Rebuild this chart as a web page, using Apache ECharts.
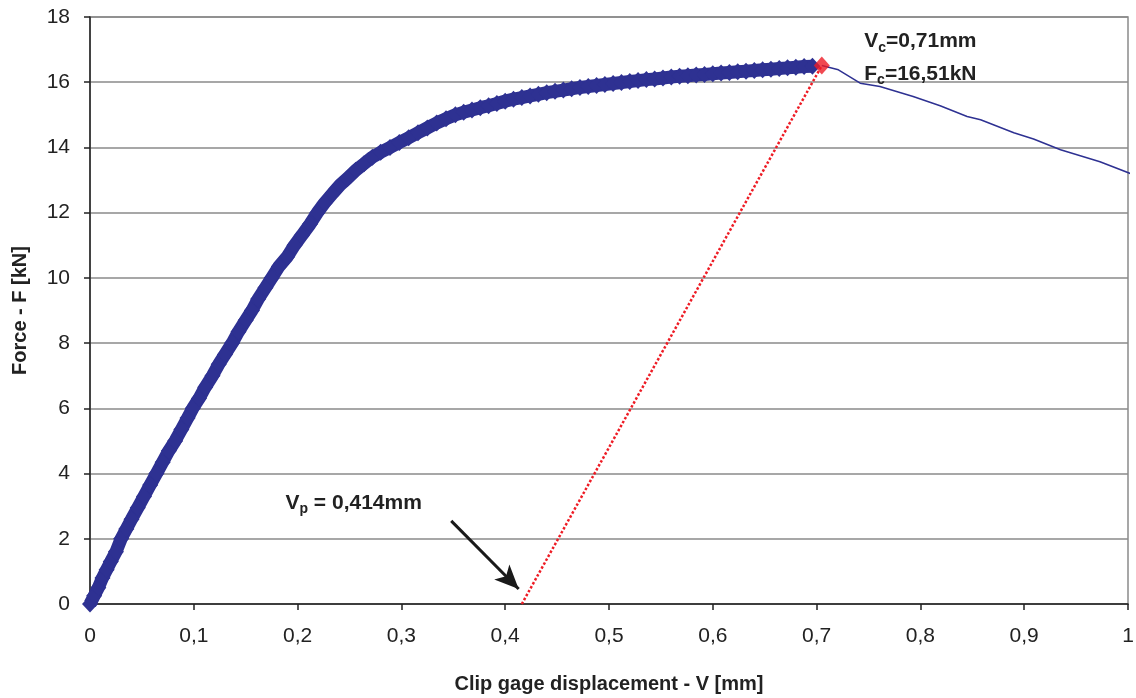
<!DOCTYPE html>
<html>
<head>
<meta charset="utf-8">
<script src="https://cdn.jsdelivr.net/npm/echarts@6/dist/echarts.min.js"></script>
<style>
  html, body { margin: 0; padding: 0; background: #fff; }
  #chart { width: 1136px; height: 698px; }
</style>
</head>
<body>
<div id="chart"></div>
<script>
// measured points up to the critical load (blue diamonds)
var loadX = [0, 0.004, 0.008, 0.012, 0.016, 0.02, 0.025, 0.03, 0.035, 0.04, 0.046, 0.052, 0.058, 0.064, 0.07, 0.076, 0.082, 0.088, 0.094, 0.099,
  0.105, 0.111, 0.118, 0.124, 0.13, 0.137, 0.143, 0.15, 0.156, 0.162, 0.169, 0.175, 0.182, 0.19, 0.197, 0.204, 0.212, 0.219, 0.226, 0.234,
  0.241, 0.248, 0.256, 0.264, 0.272, 0.28, 0.289, 0.298, 0.307, 0.316, 0.325, 0.334, 0.343, 0.352, 0.36, 0.368, 0.376, 0.384, 0.392, 0.4,
  0.408, 0.416, 0.424, 0.432, 0.44, 0.448, 0.456, 0.464, 0.472, 0.48, 0.488, 0.496, 0.504, 0.512, 0.52, 0.528, 0.536, 0.544, 0.552, 0.56,
  0.568, 0.576, 0.584, 0.592, 0.6, 0.608, 0.616, 0.624, 0.632, 0.64, 0.648, 0.656, 0.664, 0.672, 0.68, 0.688, 0.696];
var loadF = [0, 0.25, 0.5, 0.8, 1.05, 1.3, 1.6, 2.0, 2.3, 2.6, 2.95, 3.3, 3.65, 4.0, 4.35, 4.7, 5.0, 5.35, 5.7, 6.0,
  6.3, 6.65, 7.0, 7.35, 7.65, 8.0, 8.35, 8.7, 9.0, 9.35, 9.7, 10.0, 10.35, 10.65, 11.0, 11.3, 11.65, 12.0, 12.3, 12.6,
  12.85, 13.05, 13.3, 13.5, 13.7, 13.85, 14.0, 14.15, 14.3, 14.45, 14.6, 14.75, 14.88, 15.0, 15.08, 15.15, 15.22, 15.28, 15.35, 15.42,
  15.48, 15.53, 15.58, 15.63, 15.68, 15.72, 15.76, 15.8, 15.84, 15.87, 15.9, 15.93, 15.96, 15.99, 16.02, 16.05, 16.08, 16.1, 16.13, 16.16,
  16.18, 16.2, 16.22, 16.24, 16.26, 16.28, 16.3, 16.32, 16.34, 16.36, 16.38, 16.4, 16.42, 16.44, 16.46, 16.48, 16.49];

// after the critical load (thin line)
var postX = [0.705, 0.721, 0.742, 0.761, 0.793, 0.819, 0.845, 0.858, 0.89, 0.909, 0.935, 0.973, 1.008];
var postF = [16.51, 16.38, 15.97, 15.87, 15.56, 15.28, 14.95, 14.85, 14.45, 14.26, 13.93, 13.56, 13.13];

// critical point and unloading line
var critical = [0.705, 16.51];
var unloadX = [0.416, 0.705];
var unloadF = [0, 16.51];

// arrow pointing at Vp
var arrowFrom = [0.348, 2.55];
var arrowTo = [0.413, 0.46];

var xTicks = { min: 0, max: 1, step: 0.1 };
var yTicks = { min: 0, max: 18, step: 2 };

function zip(a, b) {
  return a.map(function (v, i) { return [v, b[i]]; });
}
function fmt(v) {
  return String(+v.toFixed(1)).replace('.', ',');
}

var chart = echarts.init(document.getElementById('chart'));
var font = '"Liberation Sans", Arial, sans-serif';
var blue = '#2e3192';

chart.setOption({
  animation: false,
  textStyle: { fontFamily: font },
  grid: {
    left: 90, right: 8, top: 17, bottom: 94,
    outerBoundsMode: 'none',
    containLabel: false,
    show: true, borderColor: '#8a8a8a', borderWidth: 1.5
  },
  xAxis: {
    type: 'value',
    min: xTicks.min, max: xTicks.max, interval: xTicks.step,
    name: 'Clip gage displacement - V [mm]',
    nameLocation: 'middle', nameGap: 70,
    nameTextStyle: { fontSize: 20, fontWeight: 'bold', color: '#222', fontFamily: font },
    axisLine: { lineStyle: { color: '#222', width: 1.5 } },
    axisTick: { show: true, inside: false, length: 6, lineStyle: { color: '#222', width: 1.5 } },
    axisLabel: { fontSize: 21, color: '#222', margin: 22, formatter: fmt },
    splitLine: { show: false }
  },
  yAxis: {
    type: 'value',
    min: yTicks.min, max: yTicks.max, interval: yTicks.step,
    name: 'Force - F [kN]',
    nameLocation: 'middle', nameGap: 60,
    nameTextStyle: { fontSize: 20, fontWeight: 'bold', color: '#222', fontFamily: font },
    axisLine: { show: true, lineStyle: { color: '#222', width: 1.5 } },
    axisTick: { show: true, inside: false, length: 6, lineStyle: { color: '#222', width: 1.5 } },
    axisLabel: { fontSize: 21, color: '#222', margin: 20, formatter: fmt },
    splitLine: { show: true, lineStyle: { color: '#8a8a8a', width: 1.5 } }
  },
  series: [
    {
      name: 'post',
      type: 'line',
      data: zip(postX, postF),
      showSymbol: false,
      lineStyle: { color: blue, width: 1.5 },
      z: 2
    },
    {
      name: 'load',
      type: 'line',
      data: zip(loadX, loadF),
      symbol: 'diamond',
      symbolSize: [16, 17],
      itemStyle: { color: blue },
      lineStyle: { color: blue, width: 13 },
      z: 3
    },
    {
      name: 'unload',
      type: 'line',
      data: zip(unloadX, unloadF),
      showSymbol: false,
      lineStyle: { color: '#ee1c25', width: 2.5, type: [2.5, 2] },
      z: 4
    },
    {
      name: 'critical',
      type: 'scatter',
      data: [critical],
      symbol: 'diamond',
      symbolSize: [16, 18],
      itemStyle: { color: '#ee1c25' },
      z: 5,
      markPoint: {
        symbol: 'circle', symbolSize: 0,
        label: {
          show: true, color: '#222', fontFamily: font, fontWeight: 'bold', fontSize: 21,
          rich: {
            b: { fontSize: 21, fontWeight: 'bold', fontFamily: font, color: '#222', lineHeight: 24 },
            s: { fontSize: 14, fontWeight: 'bold', fontFamily: font, color: '#222', lineHeight: 24, padding: [13, 0, 0, 0] }
          }
        },
        data: [
          { coord: [0.80, 17.25], label: { formatter: '{b|V}{s|c}{b|=0,71mm}' } },
          { coord: [0.80, 16.25], label: { formatter: '{b|F}{s|c}{b|=16,51kN}' } },
          { coord: [0.254, 3.1], label: { formatter: '{b|V}{s|p}{b| = 0,414mm}' } }
        ]
      }
    },
    {
      name: 'arrow',
      type: 'line',
      data: [],
      markLine: {
        silent: true,
        symbol: ['none', 'arrow'],
        symbolSize: [16, 24],
        label: { show: false },
        lineStyle: { color: '#1a1a1a', width: 3, type: 'solid' },
        data: [[{ coord: arrowFrom }, { coord: arrowTo }]]
      }
    }
  ]
});
</script>
</body>
</html>
